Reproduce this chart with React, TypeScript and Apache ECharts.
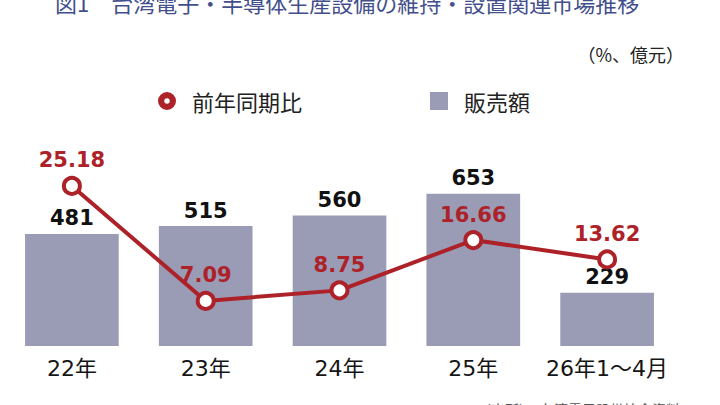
import React, { useEffect, useRef } from "react";
import * as echarts from "echarts";

const categories = ["22年", "23年", "24年", "25年", "26年1〜4月"];
const salesValues = [481, 515, 560, 653, 229];
const yoyValues = [25.18, 7.09, 8.75, 16.66, 13.62];
const salesName = "販売額";
const yoyName = "前年同期比";
const titleText = "図1　台湾電子・半導体生産設備の維持・設置関連市場推移";
const unitText = "（%、億元）";
const sourceText = "（出所）　台湾電子設備協会資料";

const RED = "#ad2229";
const BAR = "#9a9bb5";
const CJK = "'Noto Sans CJK JP', 'Noto Sans', sans-serif";
const NUM = "'DejaVu Sans', 'Noto Sans CJK JP', sans-serif";

const ringIcon =
  "path://M9,0A9,9,0,1,1,9,18A9,9,0,1,1,9,0ZM9,6.3A2.7,2.7,0,1,0,9,11.7A2.7,2.7,0,1,0,9,6.3Z";

export default function App() {
  const ref = useRef<HTMLDivElement>(null);
  useEffect(() => {
    document.body.style.margin = "0";
    if (!ref.current) return;
    const chart = echarts.init(ref.current, undefined, { renderer: "svg" });
    chart.setOption({
      animation: false,
      backgroundColor: "#ffffff",
      textStyle: { fontFamily: CJK },
      grid: { left: 5, right: 46, top: 113, bottom: 59, containLabel: false },
      legend: {
        left: 153,
        top: 85,
        itemWidth: 18,
        itemHeight: 18,
        itemGap: 128,
        selectedMode: false,
        textStyle: {
          fontFamily: CJK,
          fontSize: 22,
          color: "#222222",
          padding: [0, 0, 0, 11],
        },
        data: [
          {
            name: yoyName,
            icon: ringIcon,
            itemStyle: { color: RED, borderWidth: 0 },
          },
          { name: salesName, icon: "rect", itemStyle: { color: BAR } },
        ],
      },
      xAxis: {
        type: "category",
        data: categories,
        axisLine: { show: false },
        axisTick: { show: false },
        axisLabel: {
          interval: 0,
          fontFamily: NUM,
          fontSize: 22,
          color: "#151515",
          margin: 11,
        },
      },
      yAxis: [
        { type: "value", min: 0, max: 1000, show: false, splitLine: { show: false } },
        { type: "value", min: 0, max: 36.65, show: false, splitLine: { show: false } },
      ],
      series: [
        {
          name: salesName,
          type: "bar",
          yAxisIndex: 0,
          data: salesValues,
          barWidth: "70%",
          itemStyle: { color: BAR },
          label: {
            show: true,
            position: "top",
            distance: 5,
            fontFamily: NUM,
            fontWeight: "bold",
            fontSize: 21,
            color: "#111111",
          },
          z: 2,
        },
        {
          name: yoyName,
          type: "line",
          yAxisIndex: 1,
          data: yoyValues,
          symbol: "circle",
          symbolSize: 16,
          lineStyle: { color: RED, width: 4 },
          itemStyle: { color: "#ffffff", borderColor: RED, borderWidth: 4 },
          label: {
            show: true,
            position: "top",
            distance: 5,
            fontFamily: NUM,
            fontWeight: "bold",
            fontSize: 21,
            color: RED,
            formatter: (p: any) => Number(p.value).toFixed(2),
          },
          z: 5,
        },
      ],
      graphic: [
        {
          type: "text",
          left: 55,
          top: -9,
          style: {
            text: titleText,
            fontFamily: CJK,
            fontSize: 22,
            fill: "#434f8c",
          },
        },
        {
          type: "text",
          right: 36,
          top: 45,
          style: {
            text: unitText,
            fontFamily: CJK,
            fontSize: 18,
            fill: "#222222",
          },
        },
        {
          type: "text",
          left: 477,
          top: 402,
          style: {
            text: sourceText,
            fontFamily: CJK,
            fontSize: 14,
            fill: "#555555",
          },
        },
      ],
    });
    return () => chart.dispose();
  }, []);
  return <div ref={ref} style={{ width: 720, height: 405 }} />;
}
